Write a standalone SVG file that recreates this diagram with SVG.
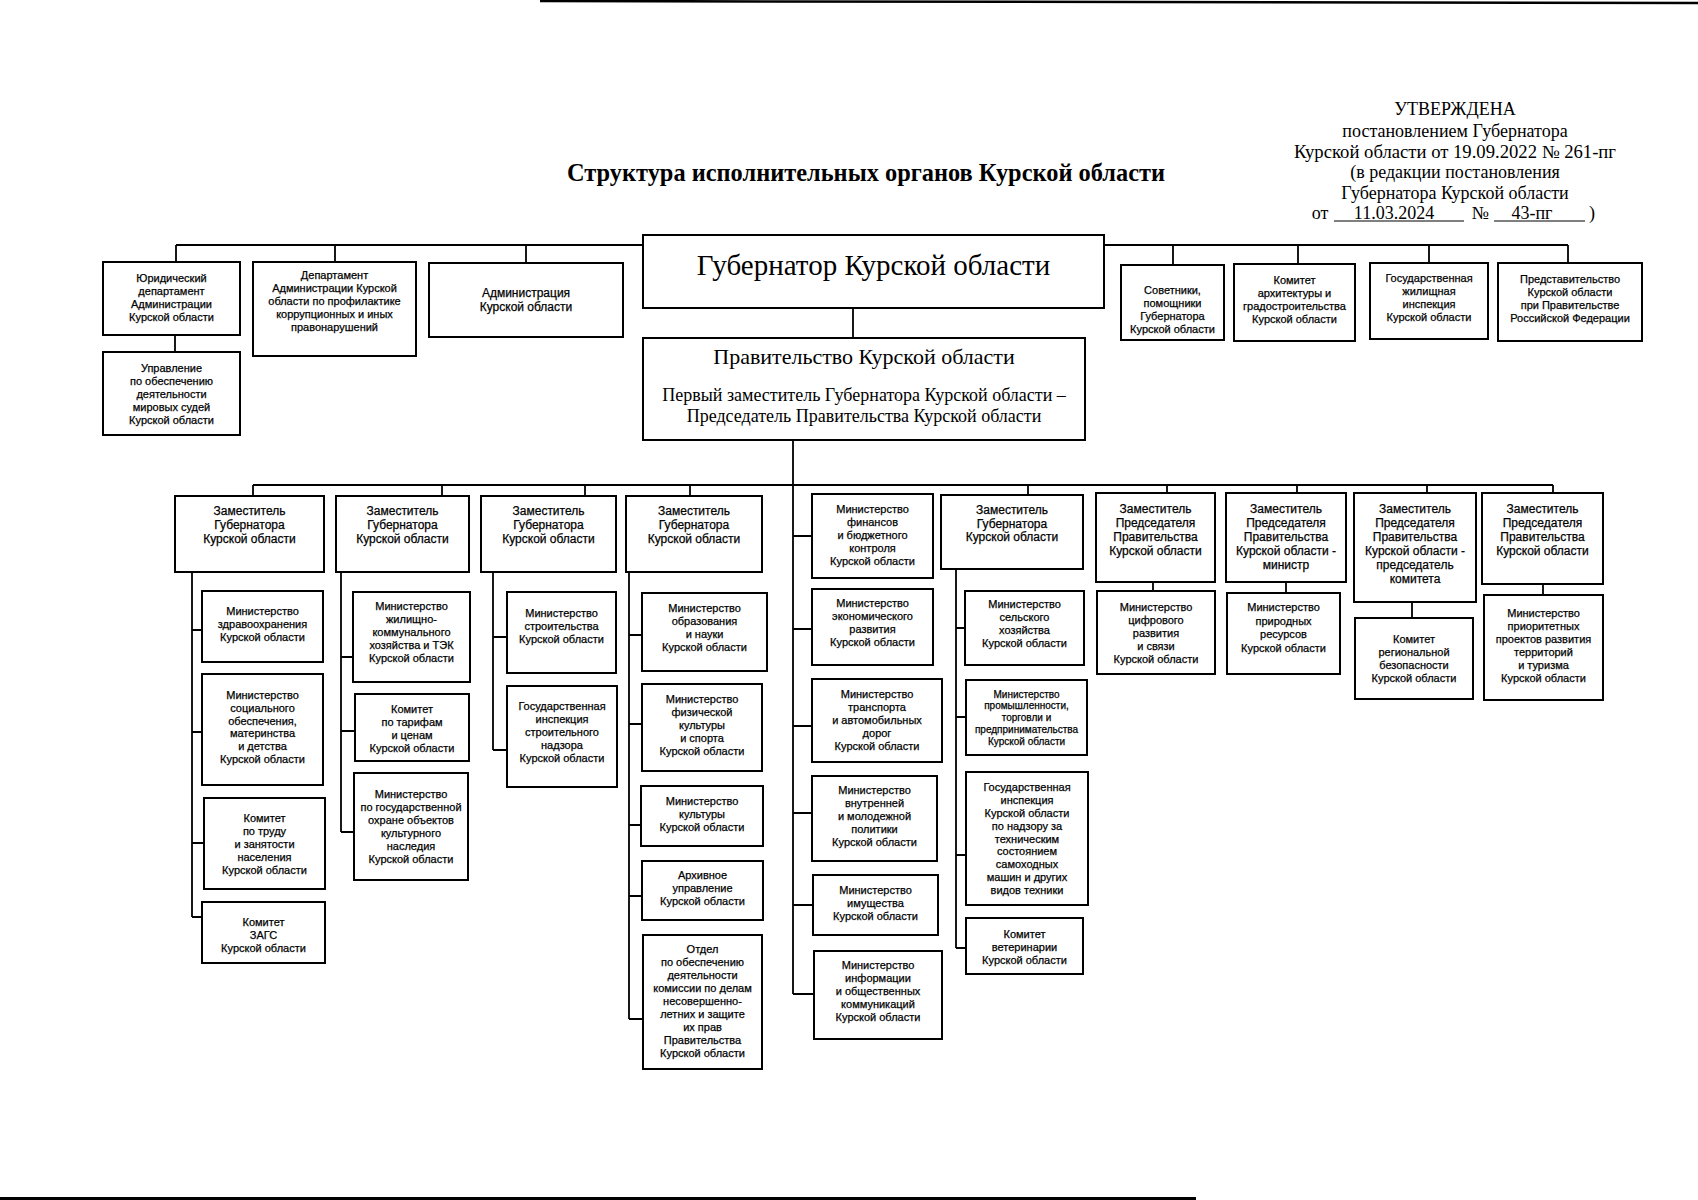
<svg xmlns="http://www.w3.org/2000/svg" width="1698" height="1200" viewBox="0 0 1698 1200">
<style>
.box{fill:#fff;stroke:#000;stroke-width:2}
.t{font-family:"Liberation Sans",Arial,sans-serif;font-size:11px;text-anchor:middle;fill:#000;stroke:#000;stroke-width:0.25}
.t12{font-size:12px}
.t10{font-size:10px}
.s{font-family:"Liberation Serif","Times New Roman",serif;fill:#000;text-anchor:middle}
.conn path{stroke:#000;stroke-width:1.8;fill:none}
.scan{stroke:#000;fill:none}
</style>
<rect x="0" y="0" width="1698" height="1200" fill="#fff"/>
<path class="scan" d="M540,1 L1698,3" stroke-width="2.5"/>
<path class="scan" d="M0,1198.5 L1196,1198.5" stroke-width="3"/>

<g id="header">
<text class="s" x="866" y="181" font-size="25" font-weight="bold" textLength="598" lengthAdjust="spacingAndGlyphs">Структура исполнительных органов Курской области</text>
<g font-size="18">
<text class="s" x="1455" y="115">УТВЕРЖДЕНА</text>
<text class="s" x="1455" y="137">постановлением Губернатора</text>
<text class="s" x="1455" y="158" textLength="322" lengthAdjust="spacingAndGlyphs">Курской области от 19.09.2022 № 261-пг</text>
<text class="s" x="1455" y="178">(в редакции постановления</text>
<text class="s" x="1455" y="199">Губернатора Курской области</text>
<text class="s" x="1320" y="219">от</text>
<text class="s" x="1394" y="219">11.03.2024</text>
<text class="s" x="1480" y="219">№</text>
<text class="s" x="1532" y="219">43-пг</text>
<text class="s" x="1592" y="219">)</text>
</g>
<path class="scan" d="M1334,221 H1464 M1494,221 H1585" stroke-width="1.2"/>
</g>

<g id="connectors" class="conn">
<path d="M176,245 H1568 M176,245 V262 M335,245 V262 M526,245 V263 M1173,245 V265 M1298,245 V264 M1429,245 V263 M1568,245 V263"/>
<path d="M175,335 V352 M853,308 V338"/>
<path d="M253,485 H1553 M253,485 V496 M442,485 V496 M585,485 V496 M690,485 V496 M1028,485 V495 M1167,485 V493 M1297,485 V493 M1427,485 V493 M1553,485 V493"/>
<path d="M793,440 V994 M793,536 H812 M793,629 H812 M793,726 H812 M793,813 H812 M793,905 H813 M793,994 H814"/>
<path d="M192,572 V917 M192,630 H202 M192,732 H202 M192,843 H204 M192,917 H202"/>
<path d="M341,572 V832 M341,657 H353 M341,731 H355 M341,832 H354"/>
<path d="M493,572 V750 M493,637 H507 M493,750 H507"/>
<path d="M629,572 V1019 M629,635 H642 M629,724 H642 M629,825 H641 M629,896 H642 M629,1019 H643"/>
<path d="M956,569 V948 M956,628 H965 M956,717 H966 M956,855 H966 M956,948 H966"/>
<path d="M1153,582 V591 M1286,582 V593 M1412,602 V618 M1543,584 V595"/>
</g>

<g id="n_gov">
<rect class="box" x="643" y="235" width="461" height="73"/>
<text class="s" x="873.5" y="275" font-size="29">Губернатор Курской области</text>
</g>
<g id="n_prav">
<rect class="box" x="643" y="338" width="442" height="102"/>
<text class="s" x="864" y="364" font-size="22">Правительство Курской области</text>
<text class="s" x="864" y="401" font-size="18">Первый заместитель Губернатора Курской области –</text>
<text class="s" x="864" y="422" font-size="18">Председатель Правительства Курской области</text>
</g>

<g id="n_yur">
<rect class="box" x="103" y="262" width="137" height="73"/>
<text class="t"><tspan x="171.5" y="282">Юридический</tspan><tspan x="171.5" y="295">департамент</tspan><tspan x="171.5" y="308">Администрации</tspan><tspan x="171.5" y="321">Курской области</tspan></text>
</g>
<g id="n_upr">
<rect class="box" x="103" y="352" width="137" height="83"/>
<text class="t"><tspan x="171.5" y="372">Управление</tspan><tspan x="171.5" y="385">по обеспечению</tspan><tspan x="171.5" y="398">деятельности</tspan><tspan x="171.5" y="411">мировых судей</tspan><tspan x="171.5" y="424">Курской области</tspan></text>
</g>
<g id="n_dep">
<rect class="box" x="253" y="262" width="163" height="94"/>
<text class="t"><tspan x="334.5" y="279">Департамент</tspan><tspan x="334.5" y="292">Администрации Курской</tspan><tspan x="334.5" y="305">области по профилактике</tspan><tspan x="334.5" y="318">коррупционных и иных</tspan><tspan x="334.5" y="331">правонарушений</tspan></text>
</g>
<g id="n_adm">
<rect class="box" x="429" y="263" width="194" height="74"/>
<text class="t t12"><tspan x="526" y="297">Администрация</tspan><tspan x="526" y="311">Курской области</tspan></text>
</g>
<g id="n_sov">
<rect class="box" x="1121" y="265" width="103" height="75"/>
<text class="t"><tspan x="1172.5" y="294">Советники,</tspan><tspan x="1172.5" y="307">помощники</tspan><tspan x="1172.5" y="320">Губернатора</tspan><tspan x="1172.5" y="333">Курской области</tspan></text>
</g>
<g id="n_arh">
<rect class="box" x="1234" y="264" width="121" height="77"/>
<text class="t"><tspan x="1294.5" y="284">Комитет</tspan><tspan x="1294.5" y="297">архитектуры и</tspan><tspan x="1294.5" y="310">градостроительства</tspan><tspan x="1294.5" y="323">Курской области</tspan></text>
</g>
<g id="n_gzhi">
<rect class="box" x="1370" y="263" width="118" height="76"/>
<text class="t"><tspan x="1429" y="282">Государственная</tspan><tspan x="1429" y="295">жилищная</tspan><tspan x="1429" y="308">инспекция</tspan><tspan x="1429" y="321">Курской области</tspan></text>
</g>
<g id="n_pred">
<rect class="box" x="1498" y="263" width="144" height="78"/>
<text class="t"><tspan x="1570" y="283">Представительство</tspan><tspan x="1570" y="296">Курской области</tspan><tspan x="1570" y="309">при Правительстве</tspan><tspan x="1570" y="322">Российской Федерации</tspan></text>
</g>

<g id="d1">
<rect class="box" x="175" y="496" width="149" height="76"/>
<text class="t t12"><tspan x="249.5" y="515">Заместитель</tspan><tspan x="249.5" y="529">Губернатора</tspan><tspan x="249.5" y="543">Курской области</tspan></text>
</g>
<g id="d2">
<rect class="box" x="336" y="496" width="133" height="76"/>
<text class="t t12"><tspan x="402.5" y="515">Заместитель</tspan><tspan x="402.5" y="529">Губернатора</tspan><tspan x="402.5" y="543">Курской области</tspan></text>
</g>
<g id="d3">
<rect class="box" x="481" y="496" width="135" height="76"/>
<text class="t t12"><tspan x="548.5" y="515">Заместитель</tspan><tspan x="548.5" y="529">Губернатора</tspan><tspan x="548.5" y="543">Курской области</tspan></text>
</g>
<g id="d4">
<rect class="box" x="626" y="496" width="136" height="76"/>
<text class="t t12"><tspan x="694" y="515">Заместитель</tspan><tspan x="694" y="529">Губернатора</tspan><tspan x="694" y="543">Курской области</tspan></text>
</g>
<g id="minfin">
<rect class="box" x="812" y="494" width="121" height="84"/>
<text class="t"><tspan x="872.5" y="513">Министерство</tspan><tspan x="872.5" y="526">финансов</tspan><tspan x="872.5" y="539">и бюджетного</tspan><tspan x="872.5" y="552">контроля</tspan><tspan x="872.5" y="565">Курской области</tspan></text>
</g>
<g id="d6">
<rect class="box" x="941" y="495" width="142" height="74"/>
<text class="t t12"><tspan x="1012" y="514">Заместитель</tspan><tspan x="1012" y="527.5">Губернатора</tspan><tspan x="1012" y="541">Курской области</tspan></text>
</g>
<g id="d7">
<rect class="box" x="1096" y="493" width="119" height="89"/>
<text class="t t12"><tspan x="1155.5" y="513">Заместитель</tspan><tspan x="1155.5" y="527">Председателя</tspan><tspan x="1155.5" y="541">Правительства</tspan><tspan x="1155.5" y="555">Курской области</tspan></text>
</g>
<g id="d8">
<rect class="box" x="1226" y="493" width="120" height="89"/>
<text class="t t12"><tspan x="1286" y="513">Заместитель</tspan><tspan x="1286" y="527">Председателя</tspan><tspan x="1286" y="541">Правительства</tspan><tspan x="1286" y="555">Курской области -</tspan><tspan x="1286" y="569">министр</tspan></text>
</g>
<g id="d9">
<rect class="box" x="1354" y="493" width="122" height="109"/>
<text class="t t12"><tspan x="1415" y="513">Заместитель</tspan><tspan x="1415" y="527">Председателя</tspan><tspan x="1415" y="541">Правительства</tspan><tspan x="1415" y="555">Курской области -</tspan><tspan x="1415" y="569">председатель</tspan><tspan x="1415" y="583">комитета</tspan></text>
</g>
<g id="d10">
<rect class="box" x="1482" y="493" width="121" height="91"/>
<text class="t t12"><tspan x="1542.5" y="513">Заместитель</tspan><tspan x="1542.5" y="527">Председателя</tspan><tspan x="1542.5" y="541">Правительства</tspan><tspan x="1542.5" y="555">Курской области</tspan></text>
</g>

<g id="c1a">
<rect class="box" x="202" y="591" width="121" height="71"/>
<text class="t"><tspan x="262.5" y="615">Министерство</tspan><tspan x="262.5" y="628">здравоохранения</tspan><tspan x="262.5" y="641">Курской области</tspan></text>
</g>
<g id="c1b">
<rect class="box" x="202" y="674" width="121" height="111"/>
<text class="t"><tspan x="262.5" y="699">Министерство</tspan><tspan x="262.5" y="712">социального</tspan><tspan x="262.5" y="725">обеспечения,</tspan><tspan x="262.5" y="737">материнства</tspan><tspan x="262.5" y="750">и детства</tspan><tspan x="262.5" y="763">Курской области</tspan></text>
</g>
<g id="c1c">
<rect class="box" x="204" y="798" width="121" height="91"/>
<text class="t"><tspan x="264.5" y="822">Комитет</tspan><tspan x="264.5" y="835">по труду</tspan><tspan x="264.5" y="848">и занятости</tspan><tspan x="264.5" y="861">населения</tspan><tspan x="264.5" y="874">Курской области</tspan></text>
</g>
<g id="c1d">
<rect class="box" x="202" y="902" width="123" height="61"/>
<text class="t"><tspan x="263.5" y="926">Комитет</tspan><tspan x="263.5" y="939">ЗАГС</tspan><tspan x="263.5" y="952">Курской области</tspan></text>
</g>

<g id="c2a">
<rect class="box" x="353" y="592" width="117" height="90"/>
<text class="t"><tspan x="411.5" y="610">Министерство</tspan><tspan x="411.5" y="623">жилищно-</tspan><tspan x="411.5" y="636">коммунального</tspan><tspan x="411.5" y="649">хозяйства и ТЭК</tspan><tspan x="411.5" y="662">Курской области</tspan></text>
</g>
<g id="c2b">
<rect class="box" x="355" y="694" width="114" height="67"/>
<text class="t"><tspan x="412" y="713">Комитет</tspan><tspan x="412" y="726">по тарифам</tspan><tspan x="412" y="739">и ценам</tspan><tspan x="412" y="752">Курской области</tspan></text>
</g>
<g id="c2c">
<rect class="box" x="354" y="773" width="114" height="107"/>
<text class="t"><tspan x="411" y="798">Министерство</tspan><tspan x="411" y="811">по государственной</tspan><tspan x="411" y="824">охране объектов</tspan><tspan x="411" y="837">культурного</tspan><tspan x="411" y="850">наследия</tspan><tspan x="411" y="863">Курской области</tspan></text>
</g>

<g id="c3a">
<rect class="box" x="507" y="592" width="109" height="81"/>
<text class="t"><tspan x="561.5" y="617">Министерство</tspan><tspan x="561.5" y="630">строительства</tspan><tspan x="561.5" y="643">Курской области</tspan></text>
</g>
<g id="c3b">
<rect class="box" x="507" y="686" width="110" height="101"/>
<text class="t"><tspan x="562" y="710">Государственная</tspan><tspan x="562" y="723">инспекция</tspan><tspan x="562" y="736">строительного</tspan><tspan x="562" y="749">надзора</tspan><tspan x="562" y="762">Курской области</tspan></text>
</g>

<g id="c4a">
<rect class="box" x="642" y="593" width="125" height="78"/>
<text class="t"><tspan x="704.5" y="612">Министерство</tspan><tspan x="704.5" y="625">образования</tspan><tspan x="704.5" y="638">и науки</tspan><tspan x="704.5" y="651">Курской области</tspan></text>
</g>
<g id="c4b">
<rect class="box" x="642" y="684" width="120" height="87"/>
<text class="t"><tspan x="702" y="703">Министерство</tspan><tspan x="702" y="716">физической</tspan><tspan x="702" y="729">культуры</tspan><tspan x="702" y="742">и спорта</tspan><tspan x="702" y="755">Курской области</tspan></text>
</g>
<g id="c4c">
<rect class="box" x="641" y="786" width="122" height="60"/>
<text class="t"><tspan x="702" y="805">Министерство</tspan><tspan x="702" y="818">культуры</tspan><tspan x="702" y="831">Курской области</tspan></text>
</g>
<g id="c4d">
<rect class="box" x="642" y="861" width="121" height="59"/>
<text class="t"><tspan x="702.5" y="879">Архивное</tspan><tspan x="702.5" y="892">управление</tspan><tspan x="702.5" y="905">Курской области</tspan></text>
</g>
<g id="c4e">
<rect class="box" x="643" y="935" width="119" height="134"/>
<text class="t"><tspan x="702.5" y="953">Отдел</tspan><tspan x="702.5" y="966">по обеспечению</tspan><tspan x="702.5" y="979">деятельности</tspan><tspan x="702.5" y="992">комиссии по делам</tspan><tspan x="702.5" y="1005">несовершенно-</tspan><tspan x="702.5" y="1018">летних и защите</tspan><tspan x="702.5" y="1031">их прав</tspan><tspan x="702.5" y="1044">Правительства</tspan><tspan x="702.5" y="1057">Курской области</tspan></text>
</g>

<g id="c5b">
<rect class="box" x="812" y="589" width="121" height="76"/>
<text class="t"><tspan x="872.5" y="607">Министерство</tspan><tspan x="872.5" y="620">экономического</tspan><tspan x="872.5" y="633">развития</tspan><tspan x="872.5" y="646">Курской области</tspan></text>
</g>
<g id="c5c">
<rect class="box" x="812" y="679" width="130" height="83"/>
<text class="t"><tspan x="877" y="698">Министерство</tspan><tspan x="877" y="711">транспорта</tspan><tspan x="877" y="724">и автомобильных</tspan><tspan x="877" y="737">дорог</tspan><tspan x="877" y="750">Курской области</tspan></text>
</g>
<g id="c5d">
<rect class="box" x="812" y="776" width="125" height="85"/>
<text class="t"><tspan x="874.5" y="794">Министерство</tspan><tspan x="874.5" y="807">внутренней</tspan><tspan x="874.5" y="820">и молодежной</tspan><tspan x="874.5" y="833">политики</tspan><tspan x="874.5" y="846">Курской области</tspan></text>
</g>
<g id="c5e">
<rect class="box" x="813" y="875" width="125" height="60"/>
<text class="t"><tspan x="875.5" y="894">Министерство</tspan><tspan x="875.5" y="907">имущества</tspan><tspan x="875.5" y="920">Курской области</tspan></text>
</g>
<g id="c5f">
<rect class="box" x="814" y="951" width="128" height="88"/>
<text class="t"><tspan x="878" y="969">Министерство</tspan><tspan x="878" y="982">информации</tspan><tspan x="878" y="995">и общественных</tspan><tspan x="878" y="1008">коммуникаций</tspan><tspan x="878" y="1021">Курской области</tspan></text>
</g>

<g id="c6a">
<rect class="box" x="965" y="591" width="119" height="74"/>
<text class="t"><tspan x="1024.5" y="608">Министерство</tspan><tspan x="1024.5" y="621">сельского</tspan><tspan x="1024.5" y="634">хозяйства</tspan><tspan x="1024.5" y="647">Курской области</tspan></text>
</g>
<g id="c6b">
<rect class="box" x="966" y="680" width="121" height="75"/>
<text class="t t10"><tspan x="1026.5" y="697.5">Министерство</tspan><tspan x="1026.5" y="709">промышленности,</tspan><tspan x="1026.5" y="721">торговли и</tspan><tspan x="1026.5" y="732.5">предпринимательства</tspan><tspan x="1026.5" y="744.5">Курской области</tspan></text>
</g>
<g id="c6c">
<rect class="box" x="966" y="772" width="122" height="133"/>
<text class="t"><tspan x="1027" y="791">Государственная</tspan><tspan x="1027" y="804">инспекция</tspan><tspan x="1027" y="817">Курской области</tspan><tspan x="1027" y="830">по надзору за</tspan><tspan x="1027" y="843">техническим</tspan><tspan x="1027" y="855">состоянием</tspan><tspan x="1027" y="868">самоходных</tspan><tspan x="1027" y="881">машин и других</tspan><tspan x="1027" y="894">видов техники</tspan></text>
</g>
<g id="c6d">
<rect class="box" x="966" y="918" width="117" height="56"/>
<text class="t"><tspan x="1024.5" y="938">Комитет</tspan><tspan x="1024.5" y="951">ветеринарии</tspan><tspan x="1024.5" y="964">Курской области</tspan></text>
</g>

<g id="c7">
<rect class="box" x="1097" y="591" width="118" height="83"/>
<text class="t"><tspan x="1156" y="611">Министерство</tspan><tspan x="1156" y="624">цифрового</tspan><tspan x="1156" y="637">развития</tspan><tspan x="1156" y="650">и связи</tspan><tspan x="1156" y="663">Курской области</tspan></text>
</g>
<g id="c8">
<rect class="box" x="1227" y="593" width="113" height="81"/>
<text class="t"><tspan x="1283.5" y="611">Министерство</tspan><tspan x="1283.5" y="624.5">природных</tspan><tspan x="1283.5" y="638">ресурсов</tspan><tspan x="1283.5" y="651.5">Курской области</tspan></text>
</g>
<g id="c9">
<rect class="box" x="1355" y="618" width="118" height="81"/>
<text class="t"><tspan x="1414" y="643">Комитет</tspan><tspan x="1414" y="656">региональной</tspan><tspan x="1414" y="669">безопасности</tspan><tspan x="1414" y="682">Курской области</tspan></text>
</g>
<g id="c10">
<rect class="box" x="1484" y="595" width="119" height="105"/>
<text class="t"><tspan x="1543.5" y="617">Министерство</tspan><tspan x="1543.5" y="630">приоритетных</tspan><tspan x="1543.5" y="643">проектов развития</tspan><tspan x="1543.5" y="656">территорий</tspan><tspan x="1543.5" y="669">и туризма</tspan><tspan x="1543.5" y="682">Курской области</tspan></text>
</g>
</svg>
